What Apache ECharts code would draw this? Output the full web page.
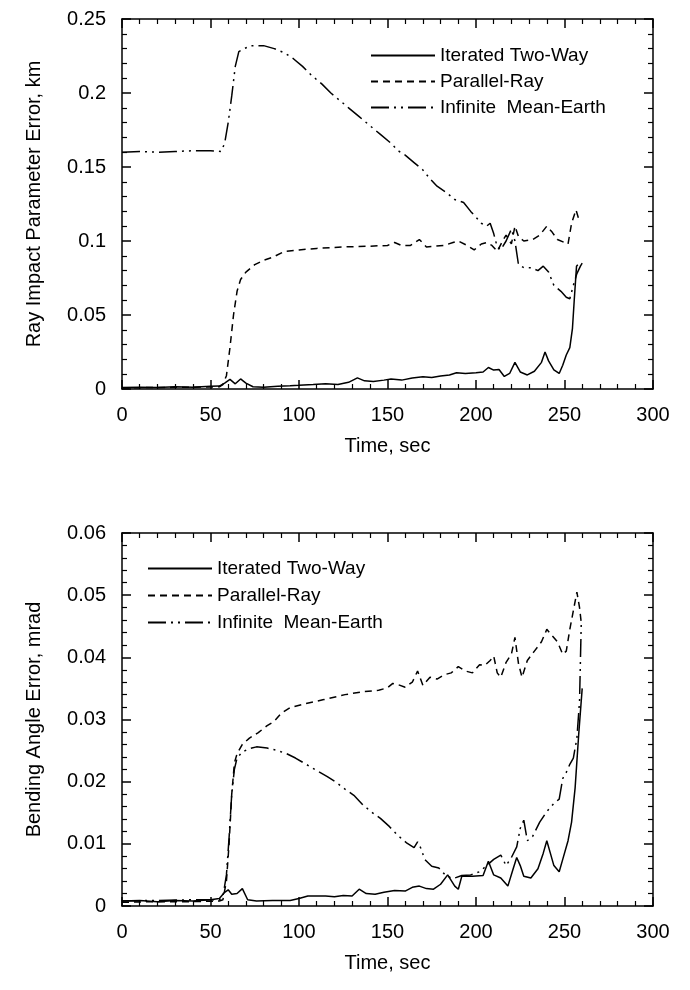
<!DOCTYPE html>
<html>
<head>
<meta charset="utf-8">
<script src="https://cdn.jsdelivr.net/npm/echarts@6/dist/echarts.min.js"></script>
<style>
  html, body { margin: 0; padding: 0; background: #fff; }
  #chart { width: 690px; height: 990px; }
</style>
</head>
<body>
<div id="chart"></div>
<script>
// series names
var names = ['Iterated Two-Way', 'Parallel-Ray', 'Infinite  Mean-Earth'];

// top panel: ray impact parameter error, km  ([time, value])
var topItw = [[0,0.001],[10,0.0012],[20,0.001],[30,0.0015],[40,0.0012],[50,0.0018],[55,0.002],[58,0.004],[61,0.0065],[64,0.0035],[67,0.0068],[70,0.004],[74,0.0015],[80,0.0012],[88,0.0018],[95,0.0022],[100,0.0025],[108,0.003],[115,0.0035],[122,0.003],[128,0.0045],[133,0.0075],[137,0.0055],[142,0.005],[148,0.006],[152,0.0068],[158,0.006],[164,0.0075],[170,0.0082],[175,0.0078],[180,0.0088],[185,0.0095],[189,0.011],[194,0.0105],[200,0.011],[204,0.0115],[207,0.0145],[210,0.0128],[213,0.0132],[216,0.0085],[219,0.0105],[222,0.018],[225,0.0115],[229,0.0095],[233,0.012],[237,0.018],[239,0.025],[241,0.019],[244,0.013],[247,0.0105],[249,0.016],[251,0.023],[253,0.028],[254.5,0.041],[255.5,0.06],[256.8,0.083],[257.5,0.084]];
var topPr = [[0,0.0008],[20,0.001],[40,0.0012],[55,0.0015],[57,0.003],[59,0.009],[61,0.028],[63,0.05],[65,0.066],[67,0.074],[70,0.079],[75,0.084],[80,0.087],[85,0.089],[92,0.093],[100,0.094],[110,0.095],[125,0.096],[140,0.0965],[150,0.097],[154,0.099],[158,0.097],[163,0.097],[168,0.101],[172,0.096],[177,0.0965],[182,0.097],[187,0.099],[190,0.1],[195,0.097],[199,0.094],[203,0.098],[206,0.099],[209,0.097],[212,0.093],[215,0.1],[217,0.104],[220,0.098],[222,0.11],[224,0.103],[227,0.1],[232,0.101],[236,0.104],[240,0.11],[243,0.106],[246,0.101],[250,0.099],[252,0.098],[254,0.112],[256.5,0.121],[258,0.115]];
var topIme = [[0,0.16],[10,0.1605],[20,0.16],[30,0.1605],[40,0.161],[50,0.161],[56,0.1605],[58,0.166],[60,0.18],[62,0.198],[64,0.218],[66,0.228],[69,0.23],[73,0.232],[80,0.232],[86,0.23],[92,0.227],[97,0.223],[102,0.218],[107,0.212],[113,0.206],[118,0.2],[123,0.195],[128,0.19],[134,0.184],[140,0.178],[146,0.172],[152,0.166],[156,0.161],[160,0.158],[165,0.153],[170,0.148],[174,0.142],[178,0.137],[183,0.133],[188,0.128],[193,0.126],[197,0.12],[200,0.116],[203,0.112],[206,0.11],[208,0.112],[210,0.105],[212,0.096],[214,0.094],[217,0.1],[220,0.108],[222,0.1],[224,0.084],[227,0.082],[231,0.082],[235,0.08],[238,0.083],[241,0.079],[244,0.07],[248,0.066],[251,0.062],[253,0.061],[255,0.07],[257,0.078],[259,0.083],[260,0.085]];

// bottom panel: bending angle error, mrad
var botItw = [[0,0.0008],[10,0.0009],[20,0.0007],[30,0.0009],[40,0.0008],[50,0.001],[55,0.0012],[58,0.0022],[60,0.0026],[62,0.0019],[65,0.002],[68,0.0028],[71,0.001],[76,0.0008],[85,0.0009],[95,0.0009],[100,0.0012],[105,0.0016],[115,0.0016],[120,0.0015],[125,0.0017],[130,0.0016],[134,0.0027],[138,0.002],[143,0.0019],[148,0.0022],[154,0.0025],[160,0.0024],[164,0.003],[168,0.0032],[172,0.0028],[176,0.0027],[180,0.0035],[184,0.005],[188,0.0032],[190,0.0027],[192,0.0048],[198,0.0048],[204,0.0049],[207,0.0072],[210,0.005],[214,0.0045],[218,0.0032],[221,0.006],[223,0.0078],[225,0.0065],[227,0.0048],[231,0.0045],[235,0.006],[238,0.0085],[240,0.0105],[242,0.0085],[244,0.0065],[247,0.0055],[249,0.0075],[252,0.0105],[254,0.0135],[256,0.019],[258,0.0275],[260,0.035]];
var botPr = [[0,0.0006],[20,0.0007],[40,0.0007],[55,0.0008],[57,0.001],[59,0.004],[60.5,0.01],[62,0.018],[63.5,0.023],[65,0.0245],[68,0.026],[72,0.027],[77,0.0279],[82,0.029],[86,0.0297],[90,0.031],[95,0.0319],[103,0.0325],[114,0.0332],[126,0.034],[137,0.0345],[145,0.0347],[150,0.0351],[153,0.0358],[156,0.0356],[160,0.0352],[164,0.036],[167,0.0378],[170,0.0355],[174,0.0368],[178,0.0365],[182,0.0372],[186,0.0375],[190,0.0385],[194,0.0378],[198,0.0375],[202,0.0388],[205,0.0387],[208,0.0395],[210,0.0402],[212,0.0375],[214,0.0368],[217,0.0392],[220,0.0405],[222,0.0432],[224,0.039],[226,0.0368],[229,0.0395],[233,0.041],[237,0.0425],[240,0.0445],[243,0.0435],[246,0.0425],[249,0.0405],[251,0.041],[253,0.0445],[255,0.0475],[257,0.0505],[258.5,0.048],[259.5,0.0455]];
var botIme = [[0,0.0008],[20,0.0009],[40,0.001],[55,0.001],[57,0.0015],[59,0.005],[60.5,0.011],[62,0.018],[63.5,0.022],[65,0.0238],[68,0.0248],[72,0.0253],[76,0.0256],[82,0.0254],[88,0.025],[93,0.0245],[98,0.0238],[104,0.0228],[110,0.0218],[116,0.0208],[121,0.0199],[126,0.0188],[131,0.0178],[136,0.0163],[141,0.0151],[146,0.0141],[151,0.0128],[156,0.0113],[161,0.0101],[165,0.0094],[167,0.0103],[169,0.0092],[171,0.0075],[175,0.0064],[179,0.0061],[183,0.0049],[187,0.0044],[192,0.0049],[197,0.005],[202,0.0055],[206,0.0065],[210,0.0075],[214,0.0082],[217,0.0065],[220,0.0078],[223,0.0095],[225,0.0125],[227,0.0138],[229,0.0105],[232,0.0112],[236,0.0135],[240,0.0152],[244,0.0165],[247,0.0172],[249,0.0205],[251,0.0215],[253,0.0228],[255,0.0238],[257,0.027],[258.5,0.033],[259.5,0.046]];

var FONT = '"Liberation Sans", Arial, sans-serif';
var lineTypes = ['solid', [7, 5], [18, 5, 2, 5, 2, 5]];

// one axis (bottom/top or left/right); labels only on the main side
function axis(grid, pos, min, max, step, name) {
  var main = (pos === 'bottom' || pos === 'left');
  return {
    type: 'value', gridIndex: grid, position: pos,
    min: min, max: max, interval: step,
    name: main ? name : '',
    nameLocation: 'middle',
    nameGap: pos === 'left' ? 78 : 47,
    nameTextStyle: { fontFamily: FONT, fontSize: 20, color: '#000' },
    axisLine: { show: true, onZero: false, lineStyle: { color: '#000', width: 1.5 } },
    axisTick: { show: true, inside: true, length: 9, lineStyle: { color: '#000', width: 1.5 } },
    minorTick: { show: true, splitNumber: 5, length: 5, lineStyle: { color: '#000', width: 1.2 } },
    splitLine: { show: false },
    minorSplitLine: { show: false },
    axisLabel: { show: main, fontFamily: FONT, fontSize: 20, color: '#000', margin: 16 }
  };
}

function series(i, data, xi) {
  return {
    name: names[i], type: 'line', data: data,
    xAxisIndex: xi, yAxisIndex: xi,
    symbol: 'none', silent: true, color: '#000',
    lineStyle: { color: '#000', width: 1.5, type: lineTypes[i] }
  };
}

function legend(left, top, gap) {
  return {
    data: names, orient: 'vertical', left: left, top: top,
    itemWidth: 64, itemHeight: 14, itemGap: gap,
    selectedMode: false,
    itemStyle: { opacity: 0 },
    textStyle: { fontFamily: FONT, fontSize: 19, color: '#000' }
  };
}

var myChart = echarts.init(document.getElementById('chart'));
var option = {
  backgroundColor: '#fff',
  animation: false,
  grid: [
    { left: 122, right: 37, top: 19, height: 370 },
    { left: 122, right: 37, top: 533, height: 373 }
  ],
  legend: [
    legend(365, 41, 7),
    legend(142, 554, 8)
  ],
  xAxis: [
    axis(0, 'bottom', 0, 300, 50, 'Time, sec'),
    axis(0, 'top', 0, 300, 50),
    axis(1, 'bottom', 0, 300, 50, 'Time, sec'),
    axis(1, 'top', 0, 300, 50)
  ],
  yAxis: [
    axis(0, 'left', 0, 0.25, 0.05, 'Ray Impact Parameter Error, km'),
    axis(0, 'right', 0, 0.25, 0.05),
    axis(1, 'left', 0, 0.06, 0.01, 'Bending Angle Error, mrad'),
    axis(1, 'right', 0, 0.06, 0.01)
  ],
  series: [
    series(0, topItw, 0), series(1, topPr, 0), series(2, topIme, 0),
    series(0, botItw, 2), series(1, botPr, 2), series(2, botIme, 2)
  ]
};
myChart.setOption(option);
</script>
</body>
</html>
